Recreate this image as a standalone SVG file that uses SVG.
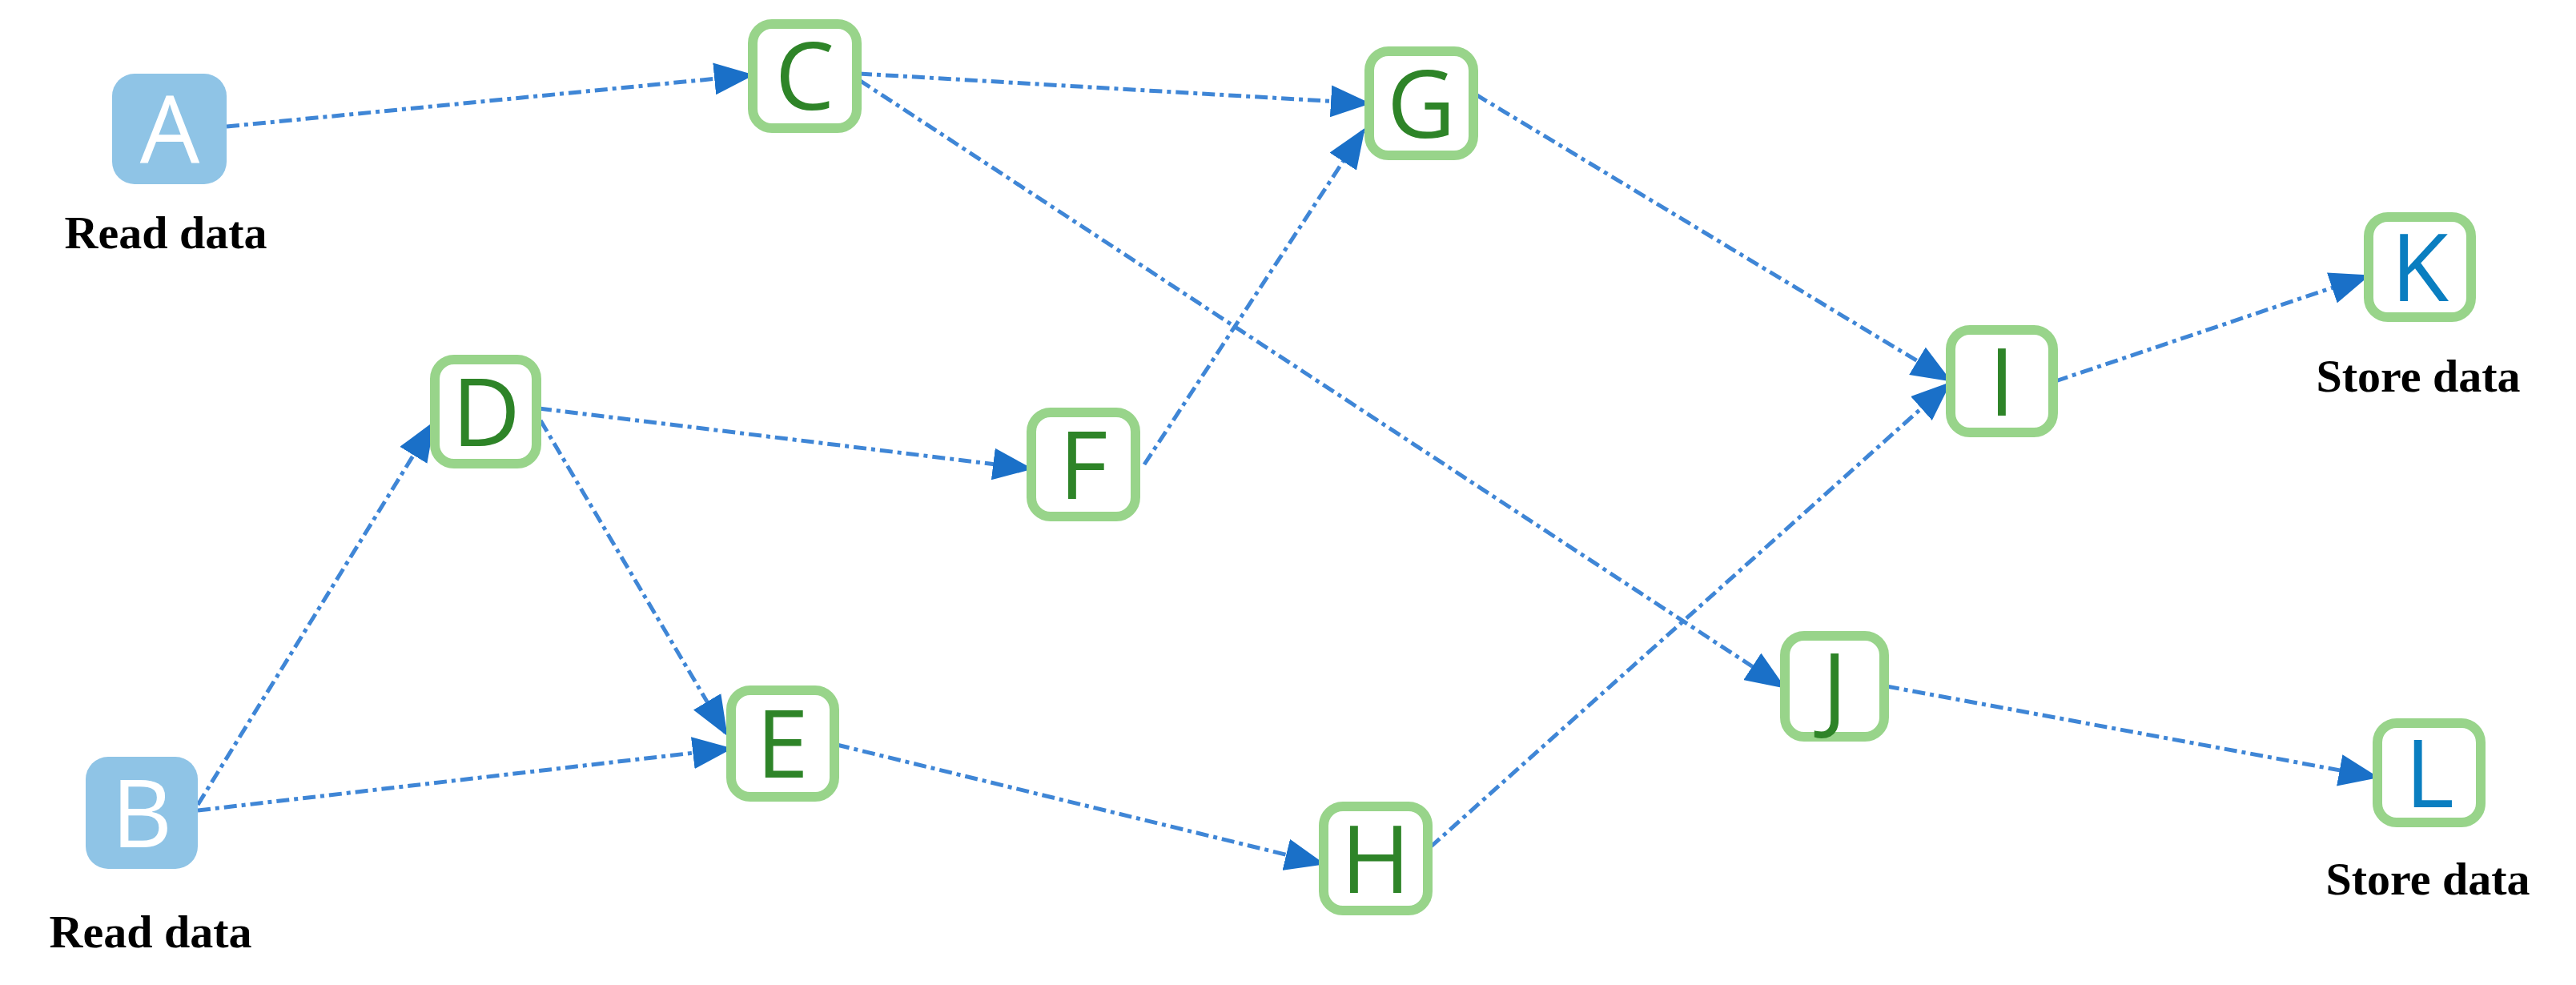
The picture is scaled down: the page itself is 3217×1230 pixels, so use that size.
<svg xmlns="http://www.w3.org/2000/svg" width="3217" height="1230" viewBox="0 0 3217 1230">
<style>
.g rect{fill:#fff;stroke:#98D48A;stroke-width:12}
.s rect{fill:#8FC4E6}
.n text{font-family:"Open Sans","DejaVu Sans",sans-serif;font-size:118px;text-anchor:middle}
.g text{fill:#2E8428}
.s text{fill:#fff}
.o text{fill:#0A7EC0}
.lbl{font-family:"Liberation Serif",serif;font-weight:bold;font-size:58px;text-anchor:middle;fill:#000}
#edges path{fill:none;stroke:#3F86D6;stroke-width:5;stroke-dasharray:16 6 5 6;marker-end:url(#ah)}
</style>
<defs>
<marker id="ah" markerWidth="10" markerHeight="8" refX="9" refY="4" orient="auto" markerUnits="strokeWidth">
<path d="M0,0 L10,4 L0,8 z" fill="#1A70C8"/>
</marker>
</defs>
<g id="edges">
<path d="M283,158 L937,94"/>
<path d="M1073,92 L1707,129"/>
<path d="M1073,100 L2226,857"/>
<path d="M1843,118 L2433,474"/>
<path d="M1429,580 L1702,164"/>
<path d="M673,510 L1285,585"/>
<path d="M675,525 L906,915"/>
<path d="M247,1005 L540,530"/>
<path d="M247,1012 L910,935"/>
<path d="M1045,930 L1650,1078"/>
<path d="M1786,1058 L2433,480"/>
<path d="M2567,476 L2955,345"/>
<path d="M2356,857 L2966,970"/>
</g>
<g id="A" class="n s"><rect x="140" y="92" width="143" height="138" rx="28"/><text x="212" y="204">A</text></g>
<text class="lbl" x="207" y="310">Read data</text>
<g id="B" class="n s"><rect x="107" y="945" width="140" height="140" rx="28"/><text x="177" y="1058">B</text></g>
<text class="lbl" x="188" y="1183">Read data</text>
<g id="C" class="n g"><rect x="940" y="30" width="130" height="130" rx="24"/><text x="1005" y="137">C</text></g>
<g id="D" class="n g"><rect x="543" y="449" width="127" height="130" rx="24"/><text x="607" y="557">D</text></g>
<g id="E" class="n g"><rect x="913" y="862" width="129" height="133" rx="24"/><text x="977" y="971">E</text></g>
<g id="F" class="n g"><rect x="1288" y="515" width="130" height="130" rx="24"/><text x="1353" y="623">F</text></g>
<g id="G" class="n g"><rect x="1710" y="64" width="130" height="130" rx="24"/><text x="1775" y="172">G</text></g>
<g id="H" class="n g"><rect x="1653" y="1007" width="130" height="130" rx="24"/><text x="1718" y="1115">H</text></g>
<g id="I" class="n g"><rect x="2436" y="412" width="128" height="128" rx="24"/><text x="2500" y="519">I</text></g>
<g id="J" class="n g"><rect x="2229" y="794" width="124" height="126" rx="24"/><text x="2291" y="900">J</text></g>
<g id="K" class="n g o"><rect x="2958" y="271" width="128" height="125" rx="24"/><text x="3022" y="376">K</text></g>
<text class="lbl" x="3020" y="489">Store data</text>
<g id="L" class="n g o"><rect x="2969" y="903" width="129" height="124" rx="24"/><text x="3034" y="1008">L</text></g>
<text class="lbl" x="3032" y="1117">Store data</text>
</svg>
